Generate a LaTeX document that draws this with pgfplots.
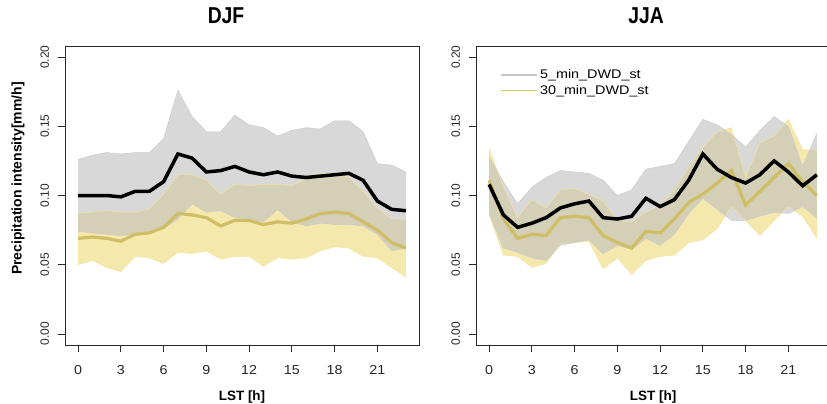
\documentclass[border=0pt]{standalone}
\usepackage{graphicx}
\usepackage{pgfplots}
\pgfplotsset{compat=1.18}
\usepackage{pgfplotstable}
\usepgfplotslibrary{fillbetween}
\usepackage{fontspec}
\setmainfont{Liberation Sans}
\newfontfamily\tickfont[FakeStretch=1.1]{Liberation Sans}
\newfontfamily\legfont[FakeStretch=1.15]{Liberation Sans}

\definecolor{bandgray}{RGB}{190,190,190}
\definecolor{bandyel}{RGB}{235,210,90}
\definecolor{lineyel}{RGB}{208,190,102}
\definecolor{leggray}{RGB}{200,200,200}
\definecolor{legyel}{RGB}{215,198,110}
\definecolor{axcol}{RGB}{40,40,40}

\pgfplotstableread{
h  m5     lo5    hi5    m30    lo30   hi30
0  0.100  0.074  0.126  0.069  0.050  0.087
1  0.100  0.073  0.129  0.070  0.053  0.088
2  0.100  0.072  0.131  0.069  0.048  0.089
3  0.099  0.071  0.130  0.067  0.045  0.088
4  0.103  0.072  0.131  0.072  0.056  0.088
5  0.103  0.073  0.131  0.073  0.055  0.090
6  0.110  0.076  0.141  0.077  0.051  0.101
7  0.130  0.083  0.176  0.087  0.059  0.115
8  0.127  0.094  0.157  0.086  0.058  0.115
9  0.117  0.088  0.146  0.084  0.060  0.111
10 0.118  0.089  0.146  0.078  0.054  0.101
11 0.121  0.084  0.158  0.082  0.056  0.108
12 0.117  0.083  0.151  0.082  0.056  0.107
13 0.115  0.081  0.149  0.079  0.049  0.108
14 0.117  0.090  0.143  0.081  0.055  0.108
15 0.114  0.081  0.147  0.080  0.054  0.107
16 0.113  0.078  0.149  0.083  0.055  0.112
17 0.114  0.080  0.148  0.087  0.060  0.116
18 0.115  0.079  0.154  0.088  0.063  0.115
19 0.116  0.079  0.154  0.087  0.062  0.113
20 0.111  0.078  0.146  0.081  0.056  0.103
21 0.096  0.072  0.123  0.075  0.055  0.091
22 0.090  0.060  0.122  0.066  0.048  0.083
23 0.089  0.062  0.117  0.062  0.041  0.083
}\djf

\pgfplotstableread{
h  m5     lo5    hi5    m30    lo30   hi30
0  0.108  0.087  0.128  0.111  0.086  0.134
1  0.086  0.062  0.110  0.083  0.057  0.106
2  0.077  0.059  0.094  0.069  0.056  0.084
3  0.080  0.055  0.106  0.072  0.048  0.097
4  0.084  0.053  0.113  0.071  0.051  0.091
5  0.091  0.064  0.118  0.084  0.065  0.104
6  0.094  0.066  0.117  0.085  0.066  0.105
7  0.096  0.068  0.116  0.084  0.067  0.101
8  0.084  0.058  0.111  0.071  0.047  0.096
9  0.083  0.064  0.100  0.066  0.055  0.082
10 0.085  0.061  0.104  0.062  0.043  0.081
11 0.098  0.069  0.119  0.074  0.053  0.088
12 0.092  0.064  0.121  0.073  0.056  0.093
13 0.097  0.072  0.123  0.083  0.057  0.104
14 0.111  0.087  0.139  0.095  0.066  0.120
15 0.130  0.098  0.155  0.101  0.068  0.135
16 0.119  0.090  0.151  0.109  0.076  0.146
17 0.113  0.082  0.144  0.118  0.092  0.149
18 0.109  0.082  0.135  0.093  0.082  0.113
19 0.115  0.085  0.147  0.103  0.071  0.138
20 0.125  0.088  0.157  0.113  0.082  0.143
21 0.117  0.087  0.150  0.123  0.092  0.155
22 0.107  0.092  0.121  0.110  0.085  0.133
23 0.115  0.084  0.145  0.100  0.069  0.133
}\jja

\pgfplotsset{rstyle/.style={
  scale only axis, width=354pt, height=299pt,
  xmin=-0.92, xmax=23.92, ymin=-0.008, ymax=0.208,
  axis line style={line width=0.9pt, axcol},
  tick pos=left, tick align=outside, major tick length=7pt,
  tick style={line width=0.8pt, axcol},
  xtick={0,3,...,21}, ytick={0,0.05,0.1,0.15,0.2},
  /pgf/number format/assume math mode=true,
  yticklabel style={rotate=90, anchor=south, yshift=5.5pt, font=\fontsize{12}{14}\selectfont, text=black!85,
    /pgf/number format/fixed, /pgf/number format/fixed zerofill, /pgf/number format/precision=2},
  xticklabel style={anchor=base, yshift=-22pt, font=\tickfont\fontsize{13}{15}\selectfont, text=black!85},
  title style={font=\bfseries\fontsize{23}{26}\selectfont, at={(axis description cs:0.5,1)}, anchor=base, yshift=17pt},
  xlabel={LST [h]},
  xlabel style={font=\bfseries\fontsize{13.5}{16}\selectfont, at={(axis description cs:0.5,0)}, anchor=base, yshift=-55.4pt},
}}

\begin{document}
\begin{tikzpicture}
\begin{axis}[rstyle, at={(65pt,-345pt)}, anchor=south west, title={\scalebox{0.84}[1]{DJF}},
  title style={xshift=-16pt},
  ylabel={Precipitation intensity[mm/h]},
  ylabel style={font=\bfseries\fontsize{14}{16}\selectfont, at={(axis description cs:0,0.557)}, anchor=center, yshift=47pt}]
  \addplot[name path=yhiA, draw=bandyel!60, line width=0.5pt, forget plot] table[x=h,y=hi30]{\djf};
  \addplot[name path=yloA, draw=bandyel!60, line width=0.5pt, forget plot] table[x=h,y=lo30]{\djf};
  \addplot[bandyel, fill opacity=0.5, draw=none, forget plot] fill between[of=yhiA and yloA];
  \addplot[name path=ghiA, draw=bandgray!80, line width=0.5pt, forget plot] table[x=h,y=hi5]{\djf};
  \addplot[name path=gloA, draw=bandgray!80, line width=0.5pt, forget plot] table[x=h,y=lo5]{\djf};
  \addplot[bandgray, fill opacity=0.6, draw=none, forget plot] fill between[of=ghiA and gloA];
  \addplot[lineyel, line width=3.2pt, forget plot] table[x=h,y=m30]{\djf};
  \addplot[black, line width=3.5pt, forget plot] table[x=h,y=m5]{\djf};
\end{axis}
\begin{axis}[rstyle, at={(476pt,-345pt)}, anchor=south west, title={\scalebox{0.84}[1]{JJA}},
  title style={xshift=-7pt},
  legend style={draw=none, fill=none, at={(axis description cs:0.06,0.935)}, anchor=north west, font=\legfont\fontsize{12.5}{14}\selectfont, row sep=1pt},
  legend cell align=left,
  legend image code/.code={\draw[#1] (0pt,0pt) -- (26pt,0pt); \path (0pt,0pt) -- (36pt,0pt);}]
\addlegendimage{leggray, line width=1.6pt}
\addlegendentry{5\_min\_DWD\_st}
\addlegendimage{legyel, line width=1.6pt}
\addlegendentry{30\_min\_DWD\_st}
  \addplot[name path=yhiB, draw=bandyel!60, line width=0.5pt, forget plot] table[x=h,y=hi30]{\jja};
  \addplot[name path=yloB, draw=bandyel!60, line width=0.5pt, forget plot] table[x=h,y=lo30]{\jja};
  \addplot[bandyel, fill opacity=0.5, draw=none, forget plot] fill between[of=yhiB and yloB];
  \addplot[name path=ghiB, draw=bandgray!80, line width=0.5pt, forget plot] table[x=h,y=hi5]{\jja};
  \addplot[name path=gloB, draw=bandgray!80, line width=0.5pt, forget plot] table[x=h,y=lo5]{\jja};
  \addplot[bandgray, fill opacity=0.6, draw=none, forget plot] fill between[of=ghiB and gloB];
  \addplot[lineyel, line width=3.2pt, forget plot] table[x=h,y=m30]{\jja};
  \addplot[black, line width=3.5pt, forget plot] table[x=h,y=m5]{\jja};
\end{axis}
\pgfresetboundingbox
\useasboundingbox (0pt,0pt) rectangle (827pt,-404pt);
\end{tikzpicture}
\end{document}
